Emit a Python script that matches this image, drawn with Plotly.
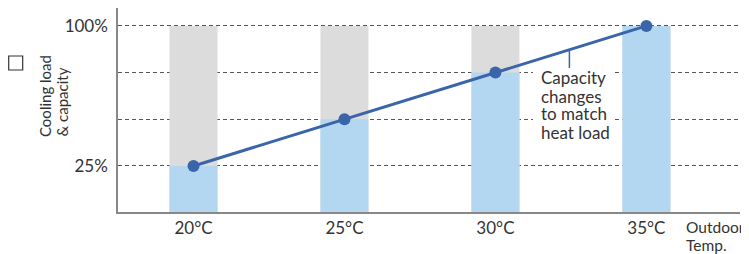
import plotly.graph_objects as go

categories = ["20°C", "25°C", "30°C", "35°C"]
heat_load = [100, 100, 100, 100]
capacity = [25, 50, 75, 100]
y_ticks = [25, 50, 75, 100]
y_tick_labels = ["25%", "", "", "100%"]

FONT = "Lato"
TXT = "#333333"
BLUE = "#3b65aa"
xs = list(range(len(categories)))

# page has an 8px body margin; plot area spans page x 118..740, y 8..212
L, R, T, B = 118, 740, 8, 212
def px(x):
    return (x - L) / (R - L)
def py(y):
    return (B - y) / (B - T)

fig = go.Figure()
fig.add_trace(go.Bar(x=xs, y=heat_load, width=0.318, marker=dict(color="#dcdcdc", line=dict(width=0)),
                     hoverinfo="skip"))
fig.add_trace(go.Bar(x=xs, y=capacity, width=0.318, marker=dict(color="#b3d7f1", line=dict(width=0)),
                     hoverinfo="skip"))
fig.add_trace(go.Scatter(x=xs, y=capacity, mode="lines+markers",
                         line=dict(color=BLUE, width=3),
                         marker=dict(color=BLUE, size=12)))

fig.update_layout(
    width=741, height=246,
    margin=dict(l=110, r=9, t=0, b=42, pad=0),
    barmode="overlay", showlegend=False,
    plot_bgcolor="white", paper_bgcolor="white",
    font=dict(family=FONT, size=17, color=TXT),
)
fig.update_xaxes(range=[-0.5, 3.62], tickvals=xs, ticktext=categories, automargin=False,
                 showgrid=False, showline=True, linecolor="#888888", linewidth=1.5,
                 ticks="", zeroline=False, tickfont=dict(size=17, color=TXT))
fig.update_yaxes(range=[0.36, 109.6], tickvals=y_ticks, ticktext=y_tick_labels, automargin=False,
                 showgrid=True, gridcolor="#555555", gridwidth=1, griddash="4px,3px",
                 showline=True, linecolor="#888888", linewidth=1.5,
                 ticks="", zeroline=False, ticklabelstandoff=5,
                 tickfont=dict(size=17, color=TXT))

# y-axis title (two rotated lines, starting at the same bottom point)
for text, cx in [("Cooling load", 45), ("& capacity", 61)]:
    fig.add_annotation(xref="paper", yref="paper", x=px(cx), y=py(138), xanchor="center", yanchor="bottom",
                       text=text, textangle=-90, showarrow=False, borderpad=0,
                       font=dict(size=15, color=TXT))
# small legend square
fig.add_shape(type="rect", xref="paper", yref="paper",
              x0=px(8.7), x1=px(22.7), y0=py(70), y1=py(56),
              line=dict(color="#333333", width=1.2), fillcolor="white")
# outdoor temp label
for text, cy in [("Outdoor", 227), ("Temp.", 245)]:
    fig.add_annotation(xref="paper", yref="paper", x=px(685), y=py(cy), xanchor="left", yanchor="middle",
                       text=text, showarrow=False, borderpad=0,
                       font=dict(size=15.5, color=TXT))
# capacity annotation: white patch interrupting gridlines, pointer line and text
fig.add_shape(type="rect", xref="paper", yref="paper", layer="above",
              x0=px(533), x1=px(614), y0=py(141), y1=py(68),
              line=dict(width=0), fillcolor="white")
fig.add_shape(type="line", xref="x", yref="y", x0=2.49, x1=2.49, y0=87.3, y1=77.5,
              line=dict(color=BLUE, width=1.5))
for text, cy in [("Capacity", 77), ("changes", 96), ("to match", 114), ("heat load", 132)]:
    fig.add_annotation(xref="paper", yref="paper", x=px(540), y=py(cy), xanchor="left", yanchor="middle",
                       text=text, showarrow=False, borderpad=0,
                       font=dict(size=17, color=TXT))

fig.write_html("out.html")
